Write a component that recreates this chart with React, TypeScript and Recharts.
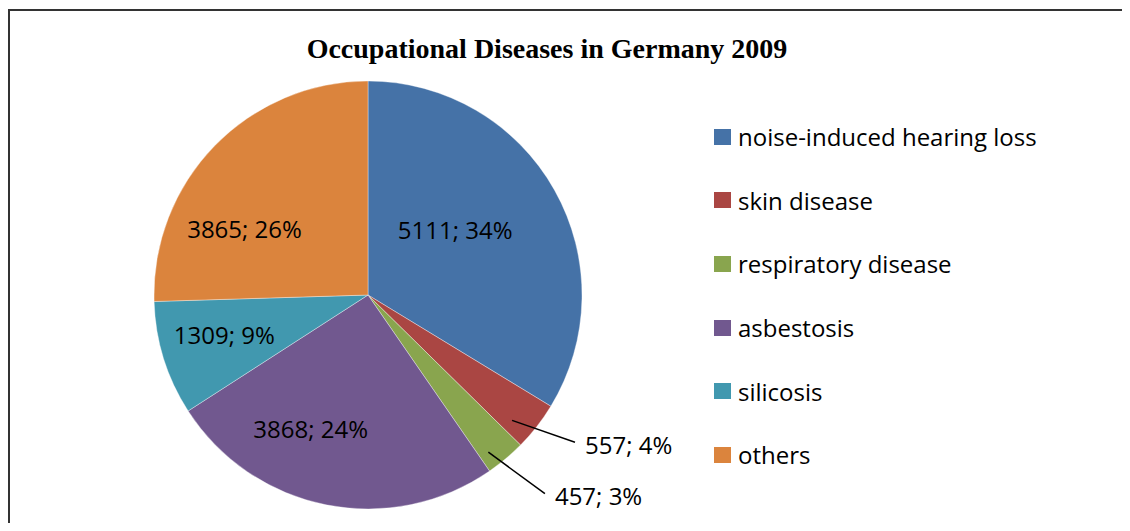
import { Legend, Pie, PieChart, Cell } from 'recharts'

const categories = [
  'noise-induced hearing loss',
  'skin disease',
  'respiratory disease',
  'asbestosis',
  'silicosis',
  'others',
]
const cases = [5111, 557, 457, 3868, 1309, 3865]
// percentages exactly as printed on the chart
const printedShare = [34, 4, 3, 24, 9, 26]
const colors = ['#4572A7', '#AA4643', '#89A54E', '#71588F', '#4198AF', '#DB843D']

const data = categories.map((name, i) => ({
  name,
  value: cases[i],
  share: printedShare[i],
}))

const RAD = Math.PI / 180
const FONT = '"Open Sans", "Noto Sans", sans-serif'

// label nudges relative to each slice's mid angle (deg) and radius (px)
const labelPlace = [
  { da: 7.5, r: 109 },
  { da: -3.1, r: 191, outside: true, endDa: 5.6, endR: 254 },
  { da: -2.6, r: 198, outside: true, endDa: 4.25, endR: 266 },
  { da: -12, r: 145 },
  { da: -2, r: 149 },
  { da: 16, r: 140 },
]

function polar(cx: number, cy: number, r: number, deg: number) {
  return { x: cx + r * Math.cos(-deg * RAD), y: cy + r * Math.sin(-deg * RAD) }
}

function renderLabel(props: any) {
  const { cx, cy, midAngle, index } = props
  const p = labelPlace[index]
  const text = `${cases[index]}; ${printedShare[index]}%`
  if (p.outside) {
    const a = polar(cx, cy, p.r, midAngle + p.da)
    const b = polar(cx, cy, p.endR!, midAngle + p.da + p.endDa!)
    return (
      <g key={`l${index}`}>
        <line x1={a.x} y1={a.y} x2={b.x} y2={b.y} stroke="#000" strokeWidth={1.5} />
        <text
          x={b.x + 10}
          y={b.y + 2}
          fill="#000"
          fontSize={24}
          fontFamily={FONT}
          textAnchor="start"
          dominantBaseline="central"
        >
          {text}
        </text>
      </g>
    )
  }
  const c = polar(cx, cy, p.r, midAngle + p.da)
  return (
    <text
      key={`l${index}`}
      x={c.x}
      y={c.y}
      fill="#000"
      fontSize={24}
      fontFamily={FONT}
      textAnchor="middle"
      dominantBaseline="central"
    >
      {text}
    </text>
  )
}

function LegendList() {
  return (
    <div>
      {categories.map((name, i) => (
        <div
          key={name}
          style={{ display: 'flex', alignItems: 'center', height: 63.6, fontFamily: FONT, fontSize: 24, color: '#000' }}
        >
          <span style={{ width: 17, height: 16, background: colors[i], marginRight: 7, display: 'inline-block' }} />
          <span>{name}</span>
        </div>
      ))}
    </div>
  )
}

export default function App() {
  return (
    <div style={{ position: 'relative', width: 1122, height: 515, overflow: 'hidden', background: '#fff' }}>
      <div
        style={{
          position: 'absolute',
          left: 0,
          top: 1,
          width: 1200,
          height: 600,
          borderTop: '2px solid #333',
          borderLeft: '2px solid #333',
        }}
      />
      <div
        style={{
          position: 'absolute',
          left: 0,
          width: 1078,
          top: 24,
          textAlign: 'center',
          fontFamily: '"Liberation Serif", "Times New Roman", serif',
          fontWeight: 'bold',
          fontSize: 28,
          lineHeight: '34px',
        }}
      >
        Occupational Diseases in Germany 2009
      </div>
      <PieChart
        width={1122}
        height={515}
        margin={{ top: 0, right: 0, bottom: 0, left: 0 }}
        style={{ position: 'absolute', left: 0, top: 0 }}
      >
        <Pie
          data={data}
          dataKey="value"
          nameKey="name"
          cx={360}
          cy={287}
          outerRadius={214}
          startAngle={90}
          endAngle={-270}
          stroke="rgba(255,255,255,0.6)"
          strokeWidth={0.6}
          label={renderLabel}
          labelLine={false}
          isAnimationActive={false}
        >
          {data.map((d, i) => (
            <Cell key={d.name} fill={colors[i]} />
          ))}
        </Pie>
        <Legend
          layout="vertical"
          content={<LegendList />}
          wrapperStyle={{ position: 'absolute', left: 706, top: 97, width: 400 }}
        />
      </PieChart>
    </div>
  )
}
